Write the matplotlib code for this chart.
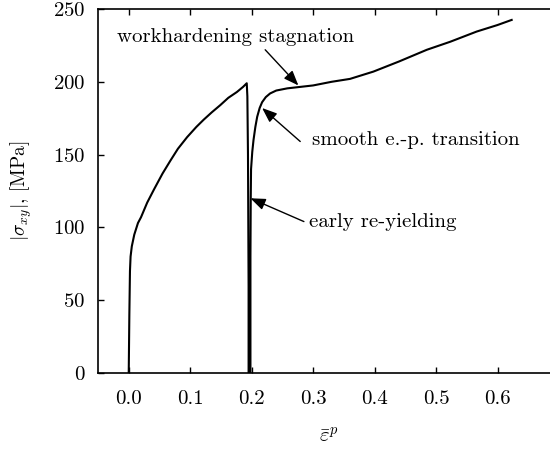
import matplotlib
matplotlib.use("Agg")
import matplotlib.pyplot as plt

plt.rcParams["font.family"] = "serif"
plt.rcParams["font.serif"] = ["cmr10"]
plt.rcParams["mathtext.fontset"] = "cm"
plt.rcParams["axes.formatter.use_mathtext"] = True

# equivalent plastic strain vs. shear stress, first loading + drop + reloading
strain = [0.000, 0.001, 0.002, 0.003, 0.005, 0.009, 0.015, 0.020, 0.030, 0.041,
          0.055, 0.068, 0.080, 0.095, 0.110, 0.122, 0.135, 0.149, 0.162, 0.176,
          0.186, 0.192, 0.193, 0.194, 0.195, 0.195,
          0.198, 0.198, 0.1985, 0.199, 0.201, 0.203, 0.206, 0.209, 0.213, 0.217,
          0.223, 0.230, 0.240, 0.258, 0.279, 0.300, 0.330, 0.360, 0.398, 0.440,
          0.485, 0.523, 0.566, 0.600, 0.623]
stress = [0, 40, 70, 80, 87, 95, 103, 107, 117, 126,
          137, 146, 154, 162, 169, 174, 179, 184, 189, 193,
          196.5, 199, 190, 150, 60, 0,
          0, 80, 120, 140, 152, 160, 169, 176, 182, 186,
          189.5, 192, 194, 195.5, 196.5, 197.5, 200, 202, 207, 214,
          222, 227.5, 234.5, 239, 242.5]

# annotations: (text, text position, arrow tail, arrow tip)
notes = [
    ("workhardening stagnation", (0.173, 231), (0.222, 222), (0.276, 197.5)),
    ("smooth e.-p. transition", (0.467, 160), (0.279, 159), (0.217, 182)),
    ("early re-yielding", (0.414, 104), (0.285, 104), (0.198, 120)),
]

fig = plt.figure(figsize=(5.5, 4.49), dpi=100)
ax = fig.add_axes([98 / 550, 76 / 449, 461 / 550, 364 / 449])

ax.plot(strain, stress, color="black", lw=1.5)

for label, txt_pos, tail, tip in notes:
    ax.text(txt_pos[0], txt_pos[1], label, ha="center", va="center", fontsize=15)
    ax.annotate("", xy=tip, xytext=tail,
                arrowprops=dict(arrowstyle="-|>,head_length=0.9,head_width=0.35",
                                color="black", lw=1.0, shrinkA=0, shrinkB=0))

ax.set_xlim(-0.05, 0.70)
ax.set_ylim(0, 250)
ax.set_xticks([0.0, 0.1, 0.2, 0.3, 0.4, 0.5, 0.6])
ax.set_xticklabels(["0.0", "0.1", "0.2", "0.3", "0.4", "0.5", "0.6"])
ax.set_yticks([0, 50, 100, 150, 200, 250])
ax.tick_params(direction="in", top=True, right=True, length=4, width=1,
               labelsize=15, pad=9)
ax.tick_params(axis="x", pad=12)
for s in ax.spines.values():
    s.set_linewidth(1.2)

ax.set_xlabel(r"$\bar{\varepsilon}^p$", fontsize=15, labelpad=14)
ax.set_ylabel(r"$|\sigma_{xy}|$, [MPa]", fontsize=14, labelpad=14)

plt.savefig("out.png", dpi=100)
plt.close()
